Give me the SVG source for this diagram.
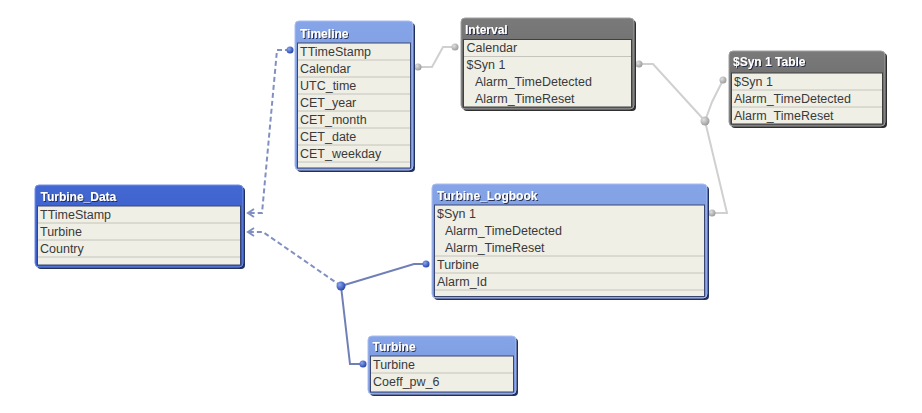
<svg xmlns="http://www.w3.org/2000/svg" width="922" height="413" viewBox="0 0 922 413">
<defs>
<style>
.t{font-family:"Liberation Sans",Arial,sans-serif;font-size:12.5px;fill:#3a3a3a}
.h{font-family:"Liberation Sans",Arial,sans-serif;font-size:12px;font-weight:bold;fill:#ffffff;filter:url(#ts)}
.shb{fill:#22305f}
.shg{fill:#2e2e2e}
.ob{fill:url(#gb);stroke:#a9bdf0;stroke-width:1}
.od{fill:url(#gd);stroke:#7090e6;stroke-width:1}
.og{fill:url(#gg);stroke:#a0a0a0;stroke-width:1}
.body{fill:#f0efe6;stroke:#3a4670;stroke-width:1}
.bodyg{fill:#f0efe6;stroke:#404040;stroke-width:1}
.sep{stroke:#c4c4bc;stroke-width:1}
.cs{fill:none;stroke:#7080b6;stroke-width:2}
.cd{fill:none;stroke:#8190c2;stroke-width:2;stroke-dasharray:5 3}
.cg{fill:none;stroke:#d0d0d0;stroke-width:2}
.db{fill:url(#rb)}
.dg{fill:url(#rg)}
</style>
<linearGradient id="gb" x1="0" y1="0" x2="0" y2="1"><stop offset="0" stop-color="#86a5e8"/><stop offset="1" stop-color="#7192dc"/></linearGradient>
<linearGradient id="gd" x1="0" y1="0" x2="0" y2="1"><stop offset="0" stop-color="#4468d2"/><stop offset="1" stop-color="#3558c6"/></linearGradient>
<linearGradient id="gg" x1="0" y1="0" x2="0" y2="1"><stop offset="0" stop-color="#7a7a7a"/><stop offset="1" stop-color="#626262"/></linearGradient>
<radialGradient id="rb" cx="0.35" cy="0.35" r="0.7"><stop offset="0" stop-color="#8aa6f0"/><stop offset="1" stop-color="#2343a8"/></radialGradient>
<radialGradient id="rg" cx="0.35" cy="0.35" r="0.7"><stop offset="0" stop-color="#e0e0e0"/><stop offset="1" stop-color="#9a9a9a"/></radialGradient>
<filter id="ts" x="-10%" y="-30%" width="120%" height="160%"><feDropShadow dx="1" dy="1" stdDeviation="0.4" flood-color="#1a2040" flood-opacity="0.9"/></filter>
<marker id="arr" markerWidth="10" markerHeight="10" refX="8" refY="5" orient="auto" markerUnits="userSpaceOnUse"><path d="M2,1 L8,5 L2,9" fill="none" stroke="#8190c2" stroke-width="2"/></marker>
</defs>
<rect width="922" height="413" fill="#ffffff"/>

<g id="connectors">
<path class="cd" d="M290,50 L277,50 L262,213 L248,213" marker-end="url(#arr)"/>
<path class="cd" d="M341,286 L263,232 L248,232" marker-end="url(#arr)"/>
<path class="cs" d="M341,286 L414,264 L426,264"/>
<path class="cs" d="M341,286 L350,364 L363,364"/>
<path class="cg" d="M418,67 L432,67 L443,47 L455,47"/>
<path class="cg" d="M639,64 L653,64 L705,121"/>
<path class="cg" d="M705,121 L712,102 L723,80"/>
<path class="cg" d="M705,121 L727,213 L712,213"/>
<circle class="db" cx="290" cy="50" r="3.5"/>
<circle class="db" cx="341" cy="286" r="4.5"/>
<circle class="db" cx="426" cy="264" r="3.5"/>
<circle class="db" cx="363" cy="364" r="3.5"/>
<circle class="dg" cx="418" cy="67" r="3.5"/>
<circle class="dg" cx="455" cy="47" r="3.5"/>
<circle class="dg" cx="639" cy="64" r="3.5"/>
<circle class="dg" cx="705" cy="121" r="4.5"/>
<circle class="dg" cx="723" cy="80" r="3.5"/>
<circle class="dg" cx="712" cy="213" r="3.5"/>
</g>

<g id="timeline">
<rect class="shb" x="297" y="23" width="118" height="149" rx="4"/>
<rect class="ob" x="295" y="21" width="118" height="149" rx="4"/>
<rect class="body" x="297.5" y="43" width="113" height="125"/>
<line class="sep" x1="298" y1="60" x2="410" y2="60"/>
<line class="sep" x1="298" y1="77" x2="410" y2="77"/>
<line class="sep" x1="298" y1="94" x2="410" y2="94"/>
<line class="sep" x1="298" y1="111" x2="410" y2="111"/>
<line class="sep" x1="298" y1="128" x2="410" y2="128"/>
<line class="sep" x1="298" y1="145" x2="410" y2="145"/>
<line class="sep" x1="298" y1="162" x2="410" y2="162"/>
<text class="h" x="300" y="38">Timeline</text>
<text class="t" x="300" y="56">TTimeStamp</text>
<text class="t" x="300" y="73">Calendar</text>
<text class="t" x="300" y="90">UTC_time</text>
<text class="t" x="300" y="107">CET_year</text>
<text class="t" x="300" y="124">CET_month</text>
<text class="t" x="300" y="141">CET_date</text>
<text class="t" x="300" y="158">CET_weekday</text>
</g>

<g id="interval">
<rect class="shg" x="463" y="20" width="173" height="91" rx="4"/>
<rect class="og" x="461" y="18" width="173" height="91" rx="4"/>
<rect class="bodyg" x="463.5" y="39.5" width="168" height="67.5"/>
<line class="sep" x1="464" y1="56.5" x2="631" y2="56.5"/>
<text class="h" x="465" y="34">Interval</text>
<text class="t" x="466.5" y="52">Calendar</text>
<text class="t" x="466.5" y="69">$Syn 1</text>
<text class="t" x="475" y="86">Alarm_TimeDetected</text>
<text class="t" x="475" y="103">Alarm_TimeReset</text>
</g>

<g id="syn1table">
<rect class="shg" x="731" y="53" width="156" height="75" rx="4"/>
<rect class="og" x="729" y="51" width="156" height="75" rx="4"/>
<rect class="bodyg" x="731.5" y="73" width="151" height="51"/>
<line class="sep" x1="732" y1="90" x2="882" y2="90"/>
<line class="sep" x1="732" y1="107" x2="882" y2="107"/>
<text class="h" x="733" y="66">$Syn 1 Table</text>
<text class="t" x="734" y="86">$Syn 1</text>
<text class="t" x="734" y="103">Alarm_TimeDetected</text>
<text class="t" x="734" y="120">Alarm_TimeReset</text>
</g>

<g id="turbine_data">
<rect class="shb" x="37" y="187" width="208" height="82" rx="4"/>
<rect class="od" x="35" y="185" width="208" height="82" rx="4"/>
<rect class="body" x="37.5" y="206" width="203" height="59"/>
<line class="sep" x1="38" y1="223" x2="240" y2="223"/>
<line class="sep" x1="38" y1="240" x2="240" y2="240"/>
<line class="sep" x1="38" y1="257" x2="240" y2="257"/>
<text class="h" x="40.5" y="201">Turbine_Data</text>
<text class="t" x="40" y="219">TTimeStamp</text>
<text class="t" x="40" y="236">Turbine</text>
<text class="t" x="40" y="253">Country</text>
</g>

<g id="turbine_logbook">
<rect class="shb" x="434" y="186" width="275" height="114" rx="4"/>
<rect class="ob" x="432" y="184" width="275" height="114" rx="4"/>
<rect class="body" x="434.5" y="205" width="270" height="91.5"/>
<line class="sep" x1="435" y1="256" x2="704" y2="256"/>
<line class="sep" x1="435" y1="273" x2="704" y2="273"/>
<line class="sep" x1="435" y1="290" x2="704" y2="290"/>
<text class="h" x="437" y="200">Turbine_Logbook</text>
<text class="t" x="437" y="218">$Syn 1</text>
<text class="t" x="445" y="235">Alarm_TimeDetected</text>
<text class="t" x="445" y="252">Alarm_TimeReset</text>
<text class="t" x="437" y="269">Turbine</text>
<text class="t" x="437" y="286">Alarm_Id</text>
</g>

<g id="turbine">
<rect class="shb" x="370" y="338" width="148" height="58" rx="4"/>
<rect class="ob" x="368" y="336" width="148" height="58" rx="4"/>
<rect class="body" x="370.5" y="356" width="143" height="36"/>
<line class="sep" x1="371" y1="373" x2="513" y2="373"/>
<text class="h" x="372.5" y="351">Turbine</text>
<text class="t" x="373" y="369">Turbine</text>
<text class="t" x="373" y="386">Coeff_pw_6</text>
</g>
</svg>
